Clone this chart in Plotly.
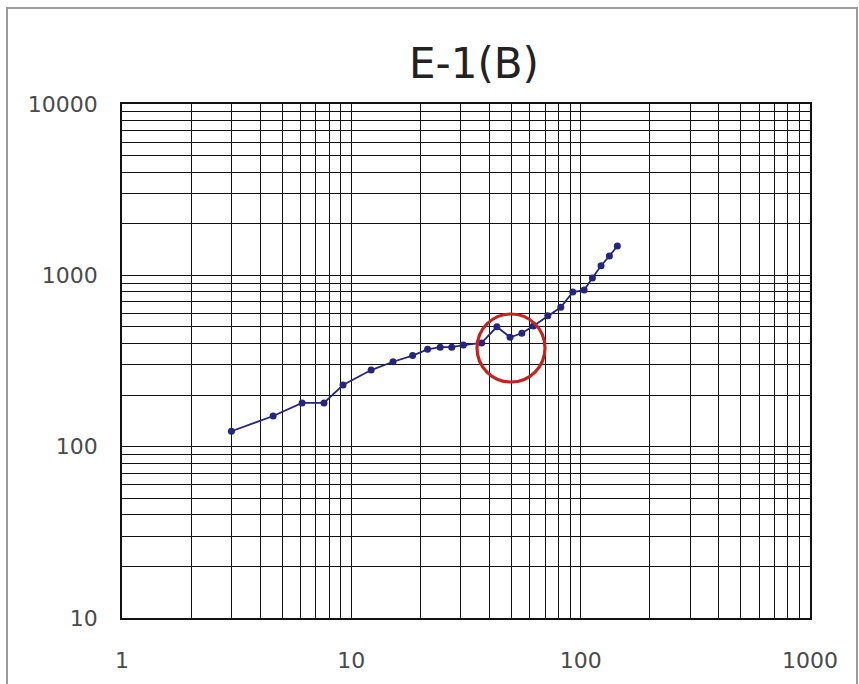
import plotly.graph_objects as go

# Data (log-log)
x_vals = [3.0, 4.56, 6.1, 7.6, 9.2, 12.2, 15.2, 18.5, 21.5, 24.4, 27.4, 30.8, 37.0,
          43.1, 49.2, 55.4, 62.2, 71.9, 81.9, 92.4, 103.5, 112.5, 122.7, 133.4, 144.5]
y_vals = [123, 151, 180, 180, 229, 280, 313, 340, 370, 381, 381, 392, 403,
          501, 435, 459, 506, 581, 651, 799, 820, 964, 1138, 1297, 1483]

x_ticks = [1, 10, 100, 1000]
y_ticks = [10, 100, 1000, 10000]
title_text = "E-1(B)"

L, R, T, B = 122, 49, 104, 66
W, H = 859, 684
pw, ph = W - L - R, H - T - B

def px_to_paper_x(px):
    return (px - L) / pw

def px_to_paper_y(py):
    return (H - B - py) / ph

fig = go.Figure()
fig.add_trace(go.Scatter(
    x=x_vals, y=y_vals, mode="lines+markers",
    line=dict(color="#25257F", width=1.8),
    marker=dict(color="#25257F", size=7),
    showlegend=False,
))

axis_common = dict(
    type="log",
    showgrid=True, gridcolor="#111111", gridwidth=1.4,
    showline=True, linecolor="#111111", linewidth=1.6, mirror=True,
    ticks="", zeroline=False,
    tickfont=dict(family="DejaVu Sans", size=22, color="#4a4a4a"),
    minor=dict(showgrid=True, dtick="D1", gridcolor="#111111", gridwidth=1.4, ticks=""),
)

fig.update_xaxes(
    range=[0, 3], tickvals=x_ticks, ticktext=[str(v) for v in x_ticks],
    ticklabelstandoff=22, **axis_common)
fig.update_yaxes(
    range=[1, 4], tickvals=y_ticks, ticktext=[str(v) for v in y_ticks],
    ticklabelstandoff=18, **axis_common)

fig.update_layout(
    width=W, height=H,
    margin=dict(l=L, r=R, t=T, b=B, autoexpand=False),
    paper_bgcolor="white", plot_bgcolor="white",
    title=dict(text=title_text, x=px_to_paper_x(474), xref="paper", xanchor="center",
               y=1 - 63 / H, yanchor="middle",
               font=dict(family="DejaVu Sans", size=42, color="#222222")),
)

# red highlight circle
fig.add_shape(type="circle", xref="paper", yref="paper",
              x0=px_to_paper_x(477), x1=px_to_paper_x(545),
              y0=px_to_paper_y(382), y1=px_to_paper_y(314),
              line=dict(color="#C8221E", width=3.2))

# outer frame of the picture
fig.add_shape(type="rect", xref="paper", yref="paper",
              x0=px_to_paper_x(7), x1=px_to_paper_x(857),
              y0=px_to_paper_y(700), y1=px_to_paper_y(8),
              line=dict(color="#9a9a9a", width=2))

fig.write_html("out.html")
